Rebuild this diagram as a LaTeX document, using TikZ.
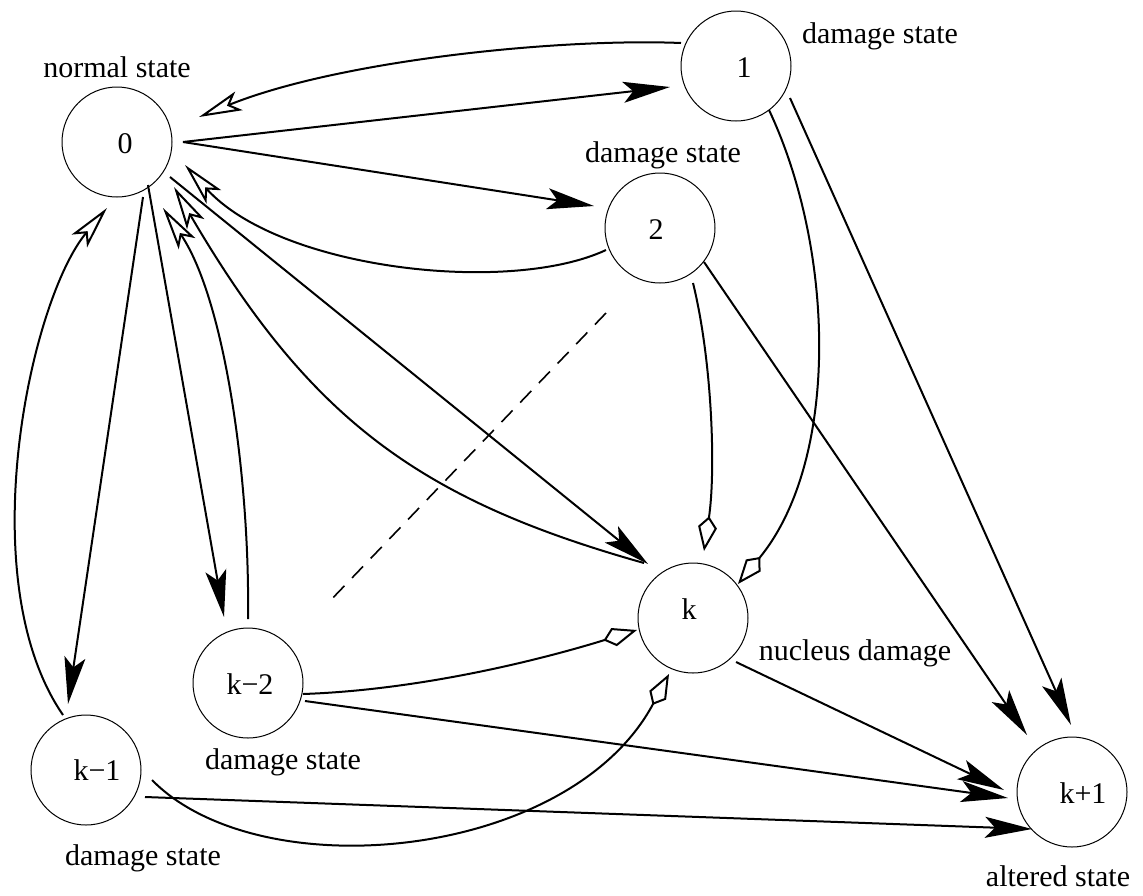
\documentclass[tikz,border=0pt]{standalone}
\usepackage{fontspec}
\setmainfont{Liberation Serif}
\usetikzlibrary{arrows.meta,calc}
\begin{document}
\begin{tikzpicture}[x=1pt,y=-1pt,
  state/.style={circle,draw,line width=1pt,minimum size=110pt,inner sep=0pt},
  txt/.style={anchor=base,inner sep=0pt,font=\fontsize{30}{36}\selectfont},
  edge/.style={line width=2pt},
  arrS/.style={edge,-{Stealth[length=47pt,width=21pt,inset=10pt]}},
  arrO/.style={edge,-{Stealth[open,length=43pt,width=20pt,inset=10pt]}},
  arrK/.style={edge,-{Kite[open,length=35pt,width=19pt,inset=11pt]}},
  dashline/.style={line width=1.6pt,dash pattern=on 16pt off 11pt}]
\useasboundingbox (0,0) rectangle (1143,895);
% states
\node[state] (n0) at (117,142) {};
\node[state] (n1) at (736,66) {};
\node[state] (n2) at (660,228) {};
\node[state] (nk) at (693,618) {};
\node[state] (nk2) at (248,683) {};
\node[state] (nk1) at (86,770) {};
\node[state] (nkp) at (1072,792) {};
% numbers
\node[txt] (t0) at (125,153) {0};
\node[txt] (t1) at (744,77) {1};
\node[txt] (t2) at (656,239) {2};
\node[txt] (tk) at (689,619) {k};
\node[txt] (tk2) at (250,694) {k−2};
\node[txt] (tk1) at (97,780) {k−1};
\node[txt] (tkp) at (1083,803) {k+1};
% labels
\node[txt] (l0) at (117,77) {normal state};
\node[txt] (l1) at (880,43) {damage state};
\node[txt] (l2) at (663,162) {damage state};
\node[txt] (lk2) at (283,769) {damage state};
\node[txt] (lk1) at (143,865) {damage state};
\node[txt] (lk) at (855,660) {nucleus damage};
\node[txt] (lkp) at (1058,886) {altered state};
% edges
\draw[arrO] ($(n1)+(-55,-23)$) .. controls (560,38) and (340,60) .. ($(n0)+(82,-25)$);
\draw[arrS] ($(n0)+(66,0)$) -- ($(n1)+(-66,21)$);
\draw[arrS] ($(n0)+(66,0)$) -- ($(n2)+(-66,-22)$);
\draw[arrO] ($(n2)+(-54,22)$) .. controls (510,295) and (280,270) .. ($(n0)+(68,23)$);
\draw[arrS] ($(n0)+(53,35)$) -- ($(nk)+(-45,-54)$);
\draw[arrO] ($(nk)+(-49,-55)$) .. controls (420,500) and (310,420) .. ($(n0)+(57,45)$);
\draw[arrO] ($(nk2)+(0,-64)$) .. controls (250,480) and (225,300) .. ($(n0)+(46,66)$);
\draw[arrS] ($(n0)+(31,43)$) -- ($(nk2)+(-24,-66)$);
\draw[arrS] ($(n0)+(26,55)$) -- ($(nk1)+(-18,-66)$);
\draw[arrO] ($(nk1)+(-23,-55)$) .. controls (-30,580) and (30,300) .. ($(n0)+(-10,66)$);
\draw[arrK] ($(n1)+(33,44)$) .. controls (835,250) and (840,460) .. ($(nk)+(45,-34)$);
\draw[arrK] ($(n2)+(33,55)$) .. controls (712,360) and (716,470) .. ($(nk)+(11,-67)$);
\draw[arrS] ($(n2)+(44,34)$) -- ($(nkp)+(-45,-57)$);
\draw[arrS] ($(n1)+(54,32)$) -- ($(nkp)+(-1,-67)$);
\draw[arrK] ($(nk2)+(55,11)$) .. controls (420,690) and (540,660) .. ($(nk)+(-56,12)$);
\draw[arrS] ($(nk2)+(57,18)$) -- ($(nkp)+(-64,6)$);
\draw[arrS] ($(nk1)+(59,27)$) -- ($(nkp)+(-40,37)$);
\draw[arrK] ($(nk1)+(66,10)$) .. controls (260,890) and (570,860) .. ($(nk)+(-24,56)$);
\draw[arrS] ($(nk)+(43,44)$) -- ($(nkp)+(-68,-2)$);
% dashed line
\coordinate (d1) at (606,313);
\coordinate (d2) at (327,604);
\draw[dashline] (d1) -- (d2);
\end{tikzpicture}
\end{document}
